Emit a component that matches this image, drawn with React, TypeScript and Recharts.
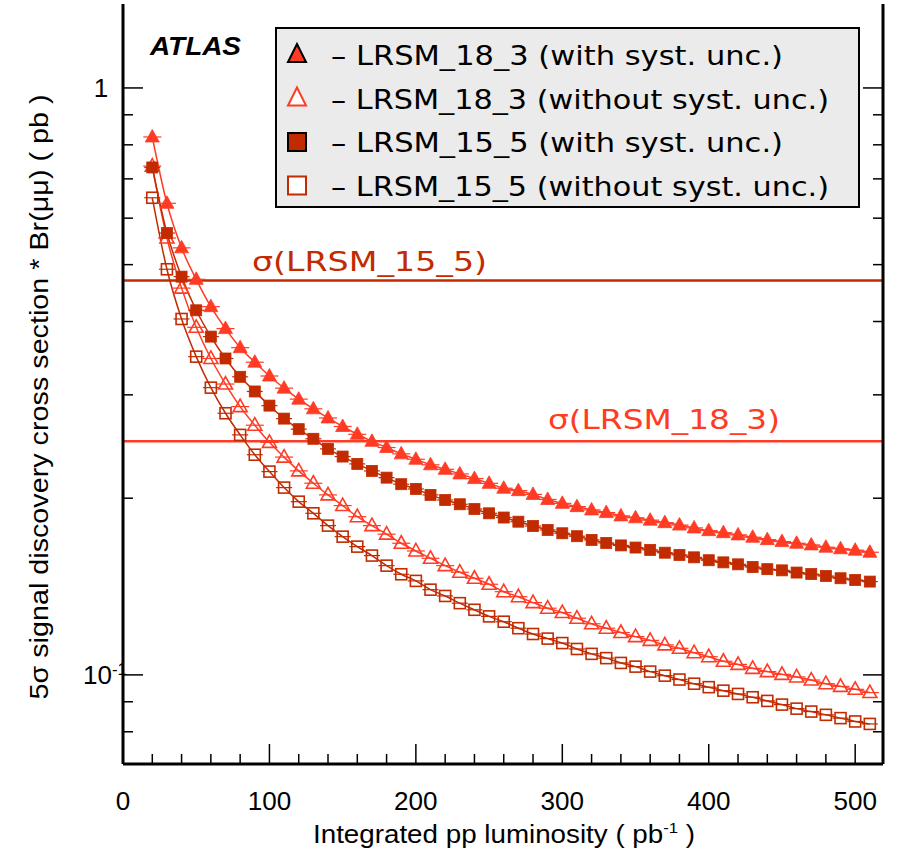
import React from 'react';
import { ComposedChart, Line, XAxis, YAxis, ReferenceLine } from 'recharts';

// integrated luminosity points (pb^-1)
const LUMI = [
  20, 30, 40, 50, 60, 70, 80, 90, 100, 110, 120, 130, 140, 150, 160, 170, 180, 190, 200, 210,
  220, 230, 240, 250, 260, 270, 280, 290, 300, 310, 320, 330, 340, 350, 360, 370, 380, 390, 400, 410,
  420, 430, 440, 450, 460, 470, 480, 490, 500, 510,
];

// LRSM_18_3 with syst. unc.
const TRI_SYST = [
  0.825, 0.636, 0.534, 0.472, 0.424, 0.389, 0.361, 0.341, 0.323, 0.308, 0.295, 0.284, 0.274, 0.265, 0.257, 0.250, 0.244, 0.238, 0.233, 0.228,
  0.224, 0.220, 0.216, 0.212, 0.208, 0.206, 0.203, 0.199, 0.196, 0.1935, 0.191, 0.189, 0.1866, 0.1852, 0.1835, 0.1817, 0.180, 0.178, 0.1761, 0.1747,
  0.1732, 0.1716, 0.1700, 0.1687, 0.1676, 0.1665, 0.1650, 0.1640, 0.1631, 0.1618,
];
// LRSM_18_3 without syst. unc.
const TRI_NOSYST = [
  0.736, 0.555, 0.456, 0.391, 0.346, 0.313, 0.2865, 0.2663, 0.249, 0.235, 0.2226, 0.2121, 0.2026, 0.1943, 0.186, 0.1796, 0.1737, 0.1676, 0.1626, 0.158,
  0.1535, 0.1496, 0.1461, 0.1427, 0.1386, 0.1359, 0.1328, 0.1299, 0.1277, 0.1249, 0.1222, 0.1201, 0.1181, 0.1162, 0.1145, 0.1125, 0.111, 0.1091, 0.1074, 0.1055,
  0.1042, 0.1026, 0.1013, 0.1002, 0.0992, 0.0980, 0.0966, 0.0956, 0.0945, 0.0933,
];
// LRSM_15_5 with syst. unc.
const SQ_SYST = [
  0.732, 0.566, 0.477, 0.418, 0.377, 0.346, 0.322, 0.304, 0.2876, 0.2733, 0.2622, 0.2525, 0.2427, 0.2355, 0.2288, 0.2226, 0.2168, 0.2113, 0.2074, 0.2026,
  0.1986, 0.1953, 0.1917, 0.1885, 0.1854, 0.1824, 0.1793, 0.1766, 0.1743, 0.1723, 0.1698, 0.1678, 0.1662, 0.1648, 0.1633, 0.1615, 0.1601, 0.1586, 0.1568, 0.1555,
  0.1543, 0.1527, 0.1514, 0.1507, 0.1494, 0.1485, 0.1474, 0.1461, 0.1451, 0.1442,
];
// LRSM_15_5 without syst. unc.
const SQ_NOSYST = [
  0.650, 0.491, 0.404, 0.3485, 0.3086, 0.2791, 0.2564, 0.2372, 0.222, 0.2085, 0.1973, 0.1885, 0.1796, 0.172, 0.1654, 0.1597, 0.1535, 0.1484, 0.1446, 0.1397,
  0.1363, 0.1325, 0.1291, 0.1258, 0.1232, 0.1201, 0.1174, 0.1153, 0.1133, 0.1107, 0.1086, 0.1068, 0.1048, 0.1033, 0.1013, 0.0997, 0.0982, 0.0966, 0.0953, 0.0940,
  0.0928, 0.0916, 0.0903, 0.0890, 0.0876, 0.0866, 0.0855, 0.0844, 0.0833, 0.0825,
];

// theory cross sections
const SIGMA_15_5 = 0.47;
const SIGMA_18_3 = 0.25;

const X_TICKS = [0, 20, 40, 60, 80, 100, 120, 140, 160, 180, 200, 220, 240, 260, 280, 300, 320, 340, 360, 380, 400, 420, 440, 460, 480, 500];
const Y_TICKS = [0.08, 0.09, 0.1, 0.2, 0.3, 0.4, 0.5, 0.6, 0.7, 0.8, 0.9, 1];

const RED = '#ff3b24';
const DARK = '#c22b00';
const TICK_FONT = "'Liberation Sans Narrow', 'Liberation Sans', Arial, sans-serif";
const GEO_FONT = "'DejaVu Sans', Verdana, sans-serif";

const data = LUMI.map((l, i) => ({
  lumi: l,
  triSyst: TRI_SYST[i],
  triNoSyst: TRI_NOSYST[i],
  sqSyst: SQ_SYST[i],
  sqNoSyst: SQ_NOSYST[i],
}));

function Marker({ cx, cy, shape, filled, color }: any) {
  if (cx == null || cy == null) return null;
  if (shape === 'tri') {
    const pts = `${cx},${cy - 7.5} ${cx - 7},${cy + 5} ${cx + 7},${cy + 5}`;
    return (
      <g>
        <line x1={cx - 9} x2={cx + 9} y1={cy} y2={cy} stroke={color} strokeWidth={1.2} />
        <polygon points={pts} fill={filled ? color : 'none'} stroke={color} strokeWidth={filled ? 0.8 : 1.6} />
      </g>
    );
  }
  return (
    <g>
      <line x1={cx - 8} x2={cx + 8} y1={cy} y2={cy} stroke={color} strokeWidth={1.2} />
      <rect x={cx - 5.5} y={cy - 5.5} width={11} height={11} fill={filled ? color : 'none'} stroke={color} strokeWidth={filled ? 0.8 : 1.6} />
    </g>
  );
}

const dotFor = (shape: string, filled: boolean, color: string) => (p: any) => (
  <Marker key={`d-${shape}-${filled}-${p.index}`} cx={p.cx} cy={p.cy} shape={shape} filled={filled} color={color} />
);

function BottomTick({ x, y, payload }: any) {
  const major = payload.value % 100 === 0;
  const label = String(payload.value);
  return (
    <g>
      <line x1={x} x2={x} y1={y} y2={y - (major ? 20 : 10)} stroke="#000" strokeWidth={1.5} />
      {major && (
        <text x={x} y={y + 46} textAnchor="middle" fontSize={25} fontFamily={TICK_FONT} textLength={14.5 * label.length} lengthAdjust="spacingAndGlyphs">
          {label}
        </text>
      )}
    </g>
  );
}

function TopTick({ x, y, payload }: any) {
  const major = payload.value % 100 === 0;
  return <line x1={x} x2={x} y1={y} y2={y + (major ? 20 : 10)} stroke="#000" strokeWidth={1.5} />;
}

function LeftTick({ x, y, payload }: any) {
  const v = payload.value;
  const major = Math.abs(v - 1) < 1e-9 || Math.abs(v - 0.1) < 1e-9;
  return (
    <g>
      <line x1={x} x2={x + (major ? 20 : 10)} y1={y} y2={y} stroke="#000" strokeWidth={1.5} />
      {Math.abs(v - 1) < 1e-9 && (
        <text x={x - 22} y={y + 9} textAnchor="middle" fontSize={26} fontFamily="'Liberation Sans', Arial">1</text>
      )}
      {Math.abs(v - 0.1) < 1e-9 && (
        <text x={x - 40} y={y + 9} fontSize={26} fontFamily="'Liberation Sans', Arial">
          10<tspan dy={-9} fontSize={17}>-1</tspan>
        </text>
      )}
    </g>
  );
}

function RightTick({ x, y, payload }: any) {
  const v = payload.value;
  const major = Math.abs(v - 1) < 1e-9 || Math.abs(v - 0.1) < 1e-9;
  return <line x1={x} x2={x - (major ? 20 : 10)} y1={y} y2={y} stroke="#000" strokeWidth={1.5} />;
}

const LEGEND = [
  { label: '– LRSM_18_3 (with syst. unc.)', shape: 'tri', filled: true, color: RED, len: 452 },
  { label: '– LRSM_18_3 (without syst. unc.)', shape: 'tri', filled: false, color: RED, len: 498 },
  { label: '– LRSM_15_5 (with syst. unc.)', shape: 'sq', filled: true, color: DARK, len: 452 },
  { label: '– LRSM_15_5 (without syst. unc.)', shape: 'sq', filled: false, color: DARK, len: 498 },
];

function LegendBox() {
  return (
    <svg width={897} height={861} style={{ position: 'absolute', left: 0, top: 0, pointerEvents: 'none' }}>
      <text x={150} y={55} fontSize={26} fontWeight="bold" fontStyle="italic" fontFamily="'Liberation Sans', Arial" textLength={91} lengthAdjust="spacingAndGlyphs">
        ATLAS
      </text>
      <rect x={276} y={28} width={583} height={179} fill="#ebebeb" stroke="#000" strokeWidth={2} />
      {LEGEND.map((e, i) => {
        const cy = 55 + i * 43.5;
        const cx = 297;
        return (
          <g key={e.label}>
            {e.shape === 'tri' ? (
              <polygon
                points={`${cx},${cy - 11} ${cx - 9},${cy + 7} ${cx + 9},${cy + 7}`}
                fill={e.filled ? e.color : '#fff'}
                stroke={e.filled ? '#000' : e.color}
                strokeWidth={2}
              />
            ) : (
              <rect x={cx - 9} y={cy - 9} width={18} height={18} fill={e.filled ? e.color : '#fff'} stroke={e.filled ? '#000' : e.color} strokeWidth={2} />
            )}
            <text x={331} y={cy + 10} fontSize={27} fontFamily={GEO_FONT} textLength={e.len} lengthAdjust="spacingAndGlyphs">
              {e.label}
            </text>
          </g>
        );
      })}
    </svg>
  );
}

export default function App() {
  return (
    <div style={{ position: 'absolute', left: 0, top: 0, width: 897, height: 861, background: '#fff' }}>
      <ComposedChart width={897} height={861} data={data} margin={{ top: 4, right: 0, bottom: 0, left: 0 }}>
        <XAxis
          xAxisId="b"
          dataKey="lumi"
          type="number"
          domain={[0, 519]}
          ticks={X_TICKS}
          interval={0}
          height={97}
          tickSize={0}
          tickMargin={0}
          tickLine={false}
          tick={<BottomTick />}
          axisLine={{ stroke: '#000', strokeWidth: 3 }}
          allowDataOverflow
          label={{
            content: ({ viewBox }: any) => (
              <text x={viewBox.x + viewBox.width / 2 + 1} y={viewBox.y + 79} textAnchor="middle" fontSize={25} fontFamily={TICK_FONT} textLength={382} lengthAdjust="spacingAndGlyphs">
                Integrated pp luminosity ( pb<tspan dy={-10} fontSize={15}>-1</tspan><tspan dy={10}> )</tspan>
              </text>
            ),
          }}
        />
        <XAxis
          xAxisId="t"
          orientation="top"
          dataKey="lumi"
          type="number"
          domain={[0, 519]}
          ticks={X_TICKS}
          interval={0}
          height={0}
          tickSize={0}
          tickMargin={0}
          tickLine={false}
          tick={<TopTick />}
          axisLine={{ stroke: '#000', strokeWidth: 3 }}
          allowDataOverflow
        />
        <YAxis
          yAxisId="l"
          type="number"
          scale="log"
          domain={[0.0705, 1.39]}
          ticks={Y_TICKS}
          interval={0}
          width={123}
          tickSize={0}
          tickMargin={0}
          tickLine={false}
          tick={<LeftTick />}
          axisLine={{ stroke: '#000', strokeWidth: 3 }}
          allowDataOverflow
          label={{
            content: () => (
              <text x={48} y={397} transform="rotate(-90 48 397)" textAnchor="middle" fontSize={25} fontFamily={TICK_FONT} textLength={605} lengthAdjust="spacingAndGlyphs">
                5σ signal discovery cross section * Br(μμ) ( pb )
              </text>
            ),
          }}
        />
        <YAxis
          yAxisId="r"
          orientation="right"
          type="number"
          scale="log"
          domain={[0.0705, 1.39]}
          ticks={Y_TICKS}
          interval={0}
          width={14}
          tickSize={0}
          tickMargin={0}
          tickLine={false}
          tick={<RightTick />}
          axisLine={{ stroke: '#000', strokeWidth: 3 }}
          allowDataOverflow
        />
        <ReferenceLine
          xAxisId="b"
          yAxisId="l"
          y={SIGMA_15_5}
          stroke={DARK}
          strokeWidth={2.5}
          label={{
            content: ({ viewBox }: any) => (
              <text x={viewBox.x + 129} y={viewBox.y - 9} fill={DARK} fontSize={27} fontFamily={GEO_FONT} textLength={235} lengthAdjust="spacingAndGlyphs">
                σ(LRSM_15_5)
              </text>
            ),
          }}
        />
        <ReferenceLine
          xAxisId="b"
          yAxisId="l"
          y={SIGMA_18_3}
          stroke={RED}
          strokeWidth={2.5}
          label={{
            content: ({ viewBox }: any) => (
              <text x={viewBox.x + 425} y={viewBox.y - 12} fill={RED} fontSize={27} fontFamily={GEO_FONT} textLength={232} lengthAdjust="spacingAndGlyphs">
                σ(LRSM_18_3)
              </text>
            ),
          }}
        />
        <Line xAxisId="b" yAxisId="l" type="monotone" dataKey="sqNoSyst" stroke={DARK} strokeWidth={1.5} dot={dotFor('sq', false, DARK)} activeDot={false} isAnimationActive={false} />
        <Line xAxisId="b" yAxisId="l" type="monotone" dataKey="triNoSyst" stroke={RED} strokeWidth={1.5} dot={dotFor('tri', false, RED)} activeDot={false} isAnimationActive={false} />
        <Line xAxisId="b" yAxisId="l" type="monotone" dataKey="sqSyst" stroke={DARK} strokeWidth={1.5} dot={dotFor('sq', true, DARK)} activeDot={false} isAnimationActive={false} />
        <Line xAxisId="b" yAxisId="l" type="monotone" dataKey="triSyst" stroke={RED} strokeWidth={1.5} dot={dotFor('tri', true, RED)} activeDot={false} isAnimationActive={false} />
      </ComposedChart>
      <LegendBox />
    </div>
  );
}
